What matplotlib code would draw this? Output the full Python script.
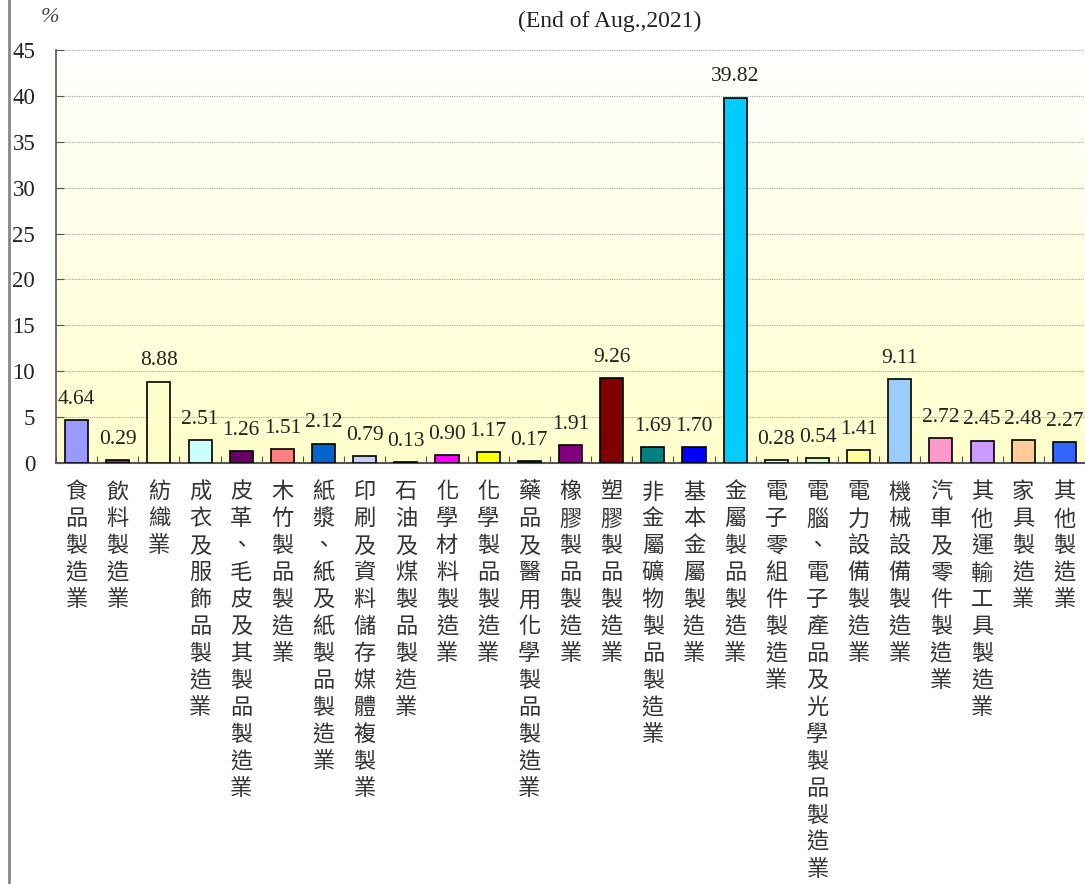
import numpy as np
import matplotlib
matplotlib.use("Agg")
import matplotlib.pyplot as plt
from matplotlib.lines import Line2D

# 產業類別與比重 (%)
categories = [
    "食品製造業", "飲料製造業", "紡織業", "成衣及服飾品製造業",
    "皮革、毛皮及其製品製造業", "木竹製品製造業", "紙漿、紙及紙製品製造業",
    "印刷及資料儲存媒體複製業", "石油及煤製品製造業", "化學材料製造業",
    "化學製品製造業", "藥品及醫用化學製品製造業", "橡膠製品製造業",
    "塑膠製品製造業", "非金屬礦物製品製造業", "基本金屬製造業",
    "金屬製品製造業", "電子零組件製造業", "電腦、電子產品及光學製品製造業",
    "電力設備製造業", "機械設備製造業", "汽車及零件製造業",
    "其他運輸工具製造業", "家具製造業", "其他製造業",
]
values = [4.64, 0.29, 8.88, 2.51, 1.26, 1.51, 2.12, 0.79, 0.13, 0.90,
          1.17, 0.17, 1.91, 9.26, 1.69, 1.70, 39.82, 0.28, 0.54, 1.41,
          9.11, 2.72, 2.45, 2.48, 2.27]
colors = ["#9999FF", "#993366", "#FFFFCC", "#CCFFFF", "#660066", "#FF8080",
          "#0066CC", "#CCCCFF", "#000080", "#FF00FF", "#FFFF00", "#008080",
          "#800080", "#800000", "#008080", "#0000FF", "#00CCFF", "#CCFFFF",
          "#CCFFCC", "#FFFF99", "#99CCFF", "#FF99CC", "#CC99FF", "#FFCC99",
          "#3366FF"]
yticks = [0, 5, 10, 15, 20, 25, 30, 35, 40, 45]
title = "(End of Aug.,2021)"

serif = ["Liberation Serif", "DejaVu Serif"]
cjk = ["Noto Sans CJK TC", "DejaVu Sans"]

fig = plt.figure(figsize=(10.85, 8.84), dpi=100)
ax = fig.add_axes([56 / 1085, (884 - 463) / 884, 1 - 56 / 1085, 413 / 884])

n = len(categories)
x = np.arange(n)
ax.set_xlim(-0.5, n - 0.5)
ax.set_ylim(0, 45)

# yellow-to-white background gradient
grad = np.linspace(0, 1, 256).reshape(-1, 1)
bg = np.ones((256, 1, 3))
bg[:, 0, 2] = 0.80 + 0.20 * grad[:, 0]
ax.imshow(bg, extent=[-0.5, n - 0.5, 0, 45], origin="lower",
          aspect="auto", zorder=0)

for yv in yticks[1:]:
    ax.axhline(yv, color="#A8A8A8", lw=0.8, ls=(0, (1, 1)), zorder=1)

bars = ax.bar(x, values, width=0.56, color=colors, edgecolor="black",
              linewidth=1.2, zorder=3)
for xi, v in zip(x, values):
    ax.annotate(f"{v:.2f}", (xi, v), xytext=(0, 8), textcoords="offset points",
                ha="center", va="bottom", fontsize=15.5, family=serif,
                color="#222222")

for s in ["top", "right"]:
    ax.spines[s].set_visible(False)
ax.spines["left"].set_color("#555555")
ax.spines["bottom"].set_color("#555555")
ax.spines["bottom"].set_linewidth(1.5)
ax.spines["left"].set_linewidth(1.2)

ax.set_yticks(yticks)
ax.set_yticklabels([str(t) for t in yticks], family=serif, fontsize=16.5,
                   color="#222222")
ax.tick_params(axis="y", direction="in", length=6, pad=15, color="#555555")

ax.set_xticks(np.arange(n + 1) - 0.5)
ax.set_xticklabels([])
ax.tick_params(axis="x", direction="in", length=5, color="#555555")

for xi, name in zip(x, categories):
    ax.text(xi, -1.9, "\n".join(name), ha="center", va="top", fontsize=16,
            family=cjk, color="#333333", linespacing=1.22)

fig.text(610 / 1085, 1 - 21 / 884, title, ha="center", va="center",
         fontsize=17, family=serif, color="#222222")
fig.text(50 / 1085, 1 - 18 / 884, "%", ha="center", va="center",
         fontsize=16, family=serif, style="italic", color="#444444")

fig.add_artist(Line2D([9 / 1085, 9 / 1085], [0, 1], color="#888888", lw=2))

fig.savefig("out.png", dpi=100)
